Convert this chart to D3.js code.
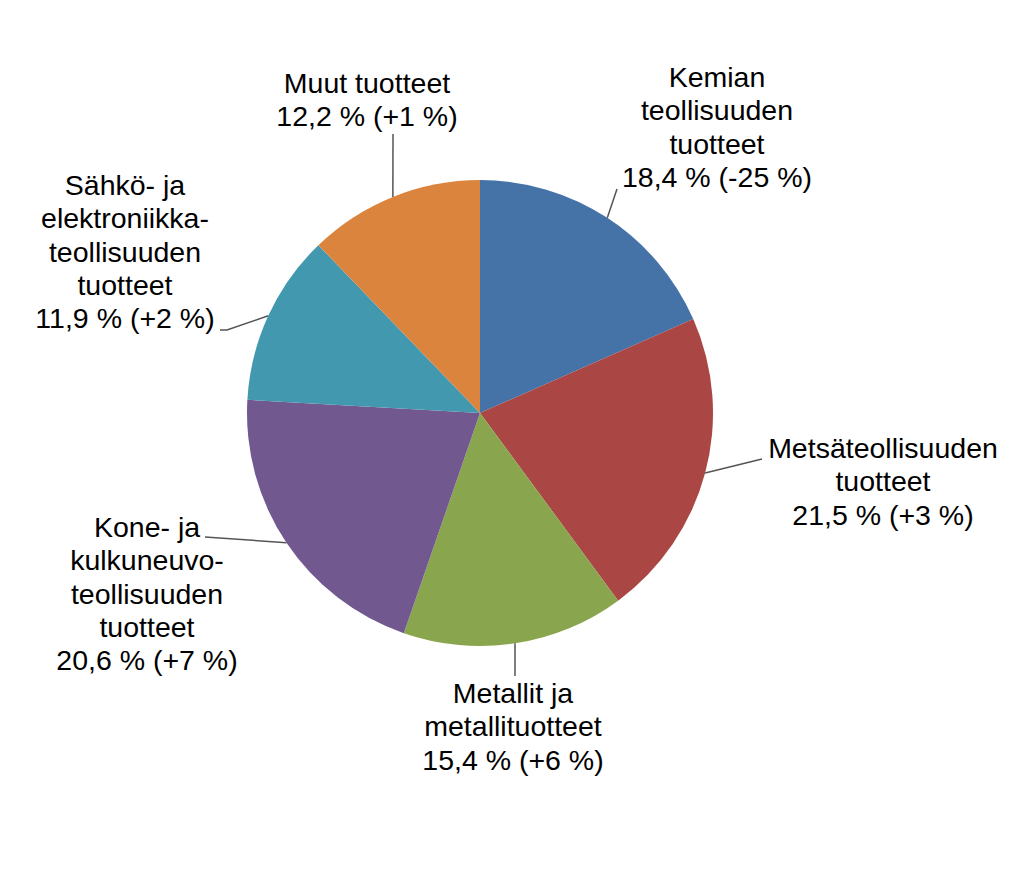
<!DOCTYPE html>
<html>
<head>
<meta charset="utf-8">
<script src="https://cdn.jsdelivr.net/npm/d3@7/dist/d3.min.js"></script>
<style>
  body { margin: 0; background: #fff; }
  svg { display: block; }
  .label { font-family: "Liberation Sans", Arial, sans-serif; font-size: 28.5px; fill: #000; }
</style>
</head>
<body>
<div id="chart"></div>
<script>
// data
const categories = [
  "Kemian teollisuuden tuotteet",
  "Metsäteollisuuden tuotteet",
  "Metallit ja metallituotteet",
  "Kone- ja kulkuneuvoteollisuuden tuotteet",
  "Sähkö- ja elektroniikkateollisuuden tuotteet",
  "Muut tuotteet"
];
const labelLines = [
  ["Kemian", "teollisuuden", "tuotteet"],
  ["Metsäteollisuuden", "tuotteet"],
  ["Metallit ja", "metallituotteet"],
  ["Kone- ja", "kulkuneuvo-", "teollisuuden", "tuotteet"],
  ["Sähkö- ja", "elektroniikka-", "teollisuuden", "tuotteet"],
  ["Muut tuotteet"]
];
const shares = [18.4, 21.5, 15.4, 20.6, 11.9, 12.2];
const changes = ["-25", "+3", "+6", "+7", "+2", "+1"];
const colors = ["#4572A7", "#AA4643", "#89A54E", "#71588F", "#4198AF", "#DB843D"];

// label placement (text centre x, first baseline y, leader bend points)
const labelLayout = [
  { x: 717, y: 87,  bends: [[617, 189]] },
  { x: 883, y: 458, bends: [[762, 459]] },
  { x: 513, y: 703, bends: [[515, 676]] },
  { x: 147, y: 537, bends: [[205, 537]] },
  { x: 125, y: 195, bends: [[227, 330], [220, 330]] },
  { x: 367, y: 93,  bends: [[393, 134]] }
];

const width = 1034, height = 870;
const cx = 480, cy = 413, radius = 233;
const lineHeight = 33.3;

const svg = d3.select("#chart").append("svg")
  .attr("width", width)
  .attr("height", height);

const rows = categories.map((c, i) => ({
  name: c, share: shares[i], change: changes[i], lines: labelLines[i], color: colors[i], layout: labelLayout[i]
}));

const pie = d3.pie().sort(null).value(d => d.share);
const arc = d3.arc().innerRadius(0).outerRadius(radius);
const edge = d3.arc().innerRadius(radius).outerRadius(radius);

const g = svg.append("g").attr("transform", `translate(${cx},${cy})`);
const arcs = pie(rows);

g.selectAll("path.slice")
  .data(arcs)
  .join("path")
  .attr("class", "slice")
  .attr("d", arc)
  .attr("fill", d => d.data.color);

// leader lines
const line = d3.line();
svg.selectAll("path.leader")
  .data(arcs)
  .join("path")
  .attr("class", "leader")
  .attr("d", d => {
    const p = edge.centroid(d);
    return line([[p[0] + cx, p[1] + cy], ...d.data.layout.bends]);
  })
  .attr("fill", "none")
  .attr("stroke", "#555")
  .attr("stroke-width", 1.5);

// labels
const fmt = v => v.toFixed(1).replace(".", ",");
const labels = svg.selectAll("text.label")
  .data(arcs)
  .join("text")
  .attr("class", "label")
  .attr("text-anchor", "middle");

labels.each(function(d) {
  const t = d3.select(this);
  const all = [...d.data.lines, `${fmt(d.data.share)} % (${d.data.change} %)`];
  all.forEach((s, i) => {
    t.append("tspan")
      .attr("x", d.data.layout.x)
      .attr("y", d.data.layout.y + i * lineHeight)
      .text(s);
  });
});
</script>
</body>
</html>
